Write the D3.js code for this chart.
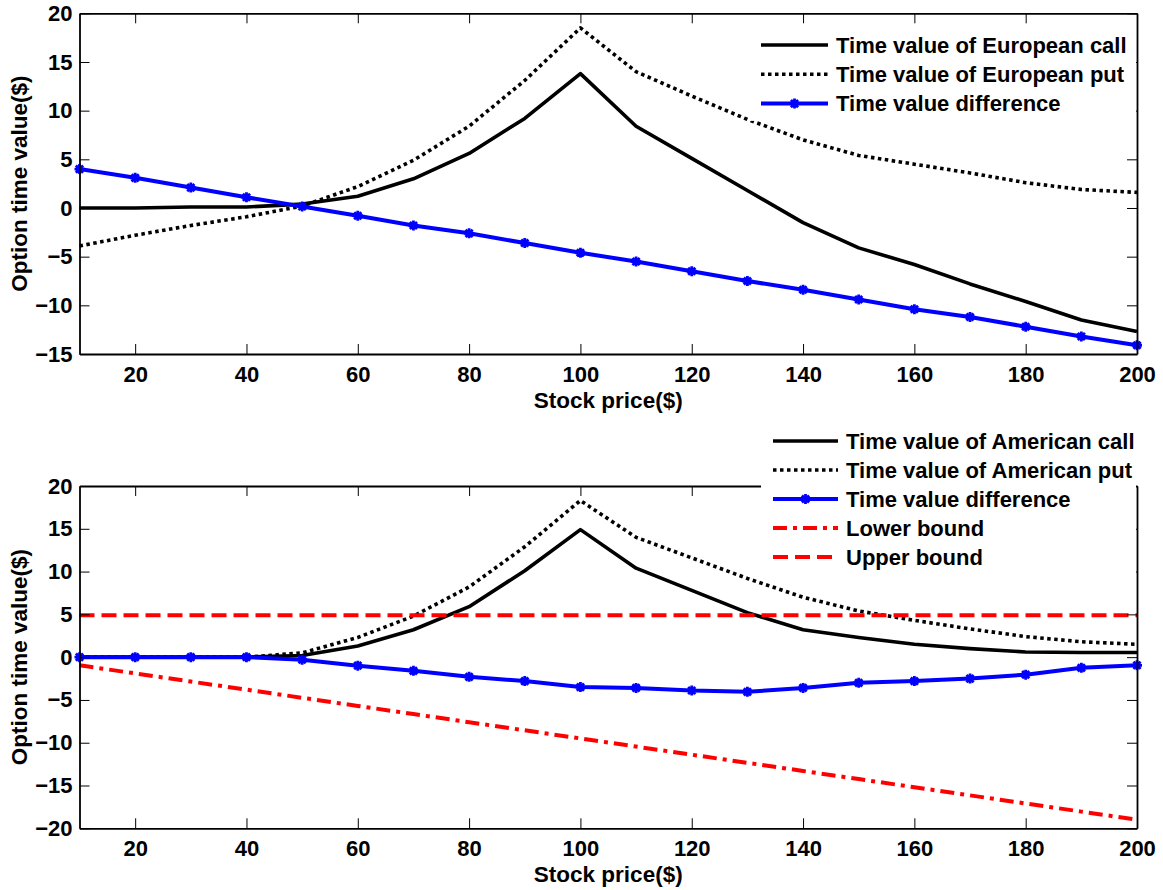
<!DOCTYPE html>
<html>
<head>
<meta charset="utf-8">
<script src="https://cdn.jsdelivr.net/npm/d3@7"></script>
<style>
  body { margin: 0; background: #fff; }
  text { font-family: "Liberation Sans", Arial, sans-serif; font-weight: bold; fill: #000; }
</style>
</head>
<body>
<div id="chart"></div>
<script>
// stock prices on the x axis
var stockPrice = [10, 20, 30, 40, 50, 60, 70, 80, 90, 100, 110, 120, 130, 140, 150, 160, 170, 180, 190, 200]

// top panel (European)
var euroCall = [0, 0, 0.1, 0.1, 0.4, 1.2, 3.0, 5.6, 9.2, 13.8, 8.4, 5.1, 1.8, -1.5, -4.1, -5.8, -7.8, -9.6, -11.5, -12.7]
var euroPut = [-3.9, -2.8, -1.8, -0.9, 0.2, 2.2, 4.9, 8.4, 13.1, 18.5, 14.0, 11.5, 9.1, 7.0, 5.4, 4.5, 3.6, 2.6, 1.9, 1.6]
var euroDiff = [4.0, 3.1, 2.1, 1.1, 0.15, -0.8, -1.8, -2.6, -3.6, -4.6, -5.5, -6.5, -7.5, -8.4, -9.4, -10.4, -11.2, -12.2, -13.2, -14.1]

// bottom panel (American)
var amerCall = [0, 0, 0, 0, 0.2, 1.3, 3.2, 5.9, 10.1, 14.9, 10.4, 7.8, 5.2, 3.2, 2.3, 1.5, 1.0, 0.6, 0.55, 0.55]
var amerPut = [0, 0, 0, 0, 0.5, 2.3, 4.8, 8.2, 12.9, 18.3, 14.0, 11.6, 9.2, 7.0, 5.4, 4.3, 3.3, 2.4, 1.8, 1.5]
var amerDiff = [0, 0, 0, 0, -0.3, -1.0, -1.6, -2.3, -2.8, -3.5, -3.6, -3.9, -4.05, -3.6, -3.0, -2.8, -2.5, -2.05, -1.25, -0.95]
var lowerBound = [-0.95, -1.9, -2.85, -3.8, -4.75, -5.7, -6.65, -7.6, -8.55, -9.5, -10.45, -11.4, -12.35, -13.3, -14.25, -15.2, -16.15, -17.1, -18.05, -19.0]
var upperBound = [4.9, 4.9, 4.9, 4.9, 4.9, 4.9, 4.9, 4.9, 4.9, 4.9, 4.9, 4.9, 4.9, 4.9, 4.9, 4.9, 4.9, 4.9, 4.9, 4.9]

// tick labels
var xTicks = [20, 40, 60, 80, 100, 120, 140, 160, 180, 200]
var yTicksTop = [-15, -10, -5, 0, 5, 10, 15, 20]
var yTicksBottom = [-20, -15, -10, -5, 0, 5, 10, 15, 20]

var legendTop = ["Time value of European call", "Time value of European put", "Time value difference"]
var legendBottom = ["Time value of American call", "Time value of American put", "Time value difference", "Lower bound", "Upper bound"]

var width = 1163, height = 890
var left = 79.5, right = 1137

var svg = d3.select("#chart").append("svg")
  .attr("width", width)
  .attr("height", height)

svg.append("rect").attr("width", width).attr("height", height).attr("fill", "#fff")

// line styles
var styles = {
  call: { color: "#000", width: 3.6, dash: null },
  put: { color: "#000", width: 3.6, dash: "3.5,3.5" },
  diff: { color: "#0000ff", width: 4, dash: null, marker: true },
  lower: { color: "#ff0000", width: 4, dash: "14,6,4,6" },
  upper: { color: "#ff0000", width: 4, dash: "15,7" }
}

var star = "M-5,0H5M0,-5V5M-3.6,-3.6L3.6,3.6M-3.6,3.6L3.6,-3.6"

function drawPanel(opt) {
  var x = d3.scaleLinear().domain([10, 200]).range([left, right])
  var y = d3.scaleLinear().domain(opt.yDomain).range([opt.bottom, opt.top])
  var g = svg.append("g")

  var line = d3.line()
    .x(function(d) { return x(d[0]) })
    .y(function(d) { return y(d[1]) })

  opt.series.forEach(function(s) {
    var st = styles[s.style]
    var pts = stockPrice.map(function(p, i) { return [p, s.values[i]] })
    g.append("path")
      .attr("d", line(pts))
      .attr("fill", "none")
      .attr("stroke", st.color)
      .attr("stroke-width", st.width)
      .attr("stroke-dasharray", st.dash)
      .attr("stroke-linejoin", "round")
    if (st.marker) {
      g.selectAll(null)
        .data(pts)
        .enter()
        .append("path")
        .attr("d", star)
        .attr("transform", function(d) { return "translate(" + x(d[0]) + "," + y(d[1]) + ")" })
        .attr("fill", "none")
        .attr("stroke", st.color)
        .attr("stroke-width", 2.8)
    }
  })

  // axes, ticks pointing inward
  var fs = "22px"
  var xb = g.append("g").attr("transform", "translate(0," + opt.bottom + ")")
    .call(d3.axisBottom(x).tickValues(xTicks).tickSizeInner(-10).tickSizeOuter(0).tickPadding(12))
  var xt = g.append("g").attr("transform", "translate(0," + opt.top + ")")
    .call(d3.axisTop(x).tickValues(xTicks).tickSizeInner(-10).tickSizeOuter(0).tickFormat(""))
  var yl = g.append("g").attr("transform", "translate(" + left + ",0)")
    .call(d3.axisLeft(y).tickValues(opt.yTicks).tickSizeInner(-10).tickSizeOuter(0).tickPadding(7))
  var yr = g.append("g").attr("transform", "translate(" + right + ",0)")
    .call(d3.axisRight(y).tickValues(opt.yTicks).tickSizeInner(-10).tickSizeOuter(0).tickFormat(""))

  ;[xb, xt, yl, yr].forEach(function(a) {
    a.select(".domain").attr("stroke", "#000").attr("stroke-width", 1.8)
    a.selectAll(".tick line").attr("stroke", "#000").attr("stroke-width", 1)
    a.selectAll("text").style("font-size", fs).attr("font-family", null)
  })

  // axis labels
  g.append("text")
    .attr("x", (left + right) / 2)
    .attr("y", opt.bottom + 54)
    .attr("text-anchor", "middle")
    .style("font-size", "22.5px")
    .text("Stock price($)")

  g.append("text")
    .attr("transform", "translate(27," + (opt.top + opt.bottom) / 2 + ") rotate(-90)")
    .attr("text-anchor", "middle")
    .style("font-size", "22.5px")
    .text("Option time value($)")

  // legend
  var lg = g.append("g")
  lg.append("rect")
    .attr("x", opt.legend.x - 12)
    .attr("y", opt.legend.y - 16)
    .attr("width", right - 1 - (opt.legend.x - 12))
    .attr("height", opt.legend.step * opt.series.length + 4)
    .attr("fill", "#fff")

  opt.series.forEach(function(s, i) {
    var st = styles[s.style]
    var cy = opt.legend.y + i * opt.legend.step
    lg.append("line")
      .attr("x1", opt.legend.x).attr("x2", opt.legend.x + opt.legend.len)
      .attr("y1", cy).attr("y2", cy)
      .attr("stroke", st.color)
      .attr("stroke-width", st.width)
      .attr("stroke-dasharray", st.dash)
    if (st.marker) {
      lg.append("path")
        .attr("d", star)
        .attr("transform", "translate(" + (opt.legend.x + opt.legend.len / 2) + "," + cy + ")")
        .attr("fill", "none")
        .attr("stroke", st.color)
        .attr("stroke-width", 2.8)
    }
    lg.append("text")
      .attr("x", opt.legend.x + opt.legend.len + 8)
      .attr("y", cy + 7.5)
      .style("font-size", "22px")
      .text(s.label)
  })
}

drawPanel({
  top: 13.3, bottom: 354,
  yDomain: [-15, 20], yTicks: yTicksTop,
  series: [
    { values: euroCall, style: "call", label: legendTop[0] },
    { values: euroPut, style: "put", label: legendTop[1] },
    { values: euroDiff, style: "diff", label: legendTop[2] }
  ],
  legend: { x: 761, y: 45, step: 29.3, len: 67 }
})

drawPanel({
  top: 486, bottom: 828.3,
  yDomain: [-20, 20], yTicks: yTicksBottom,
  series: [
    { values: amerCall, style: "call", label: legendBottom[0] },
    { values: amerPut, style: "put", label: legendBottom[1] },
    { values: amerDiff, style: "diff", label: legendBottom[2] },
    { values: lowerBound, style: "lower", label: legendBottom[3] },
    { values: upperBound, style: "upper", label: legendBottom[4] }
  ],
  legend: { x: 773, y: 441, step: 29, len: 65 }
})
</script>
</body>
</html>
